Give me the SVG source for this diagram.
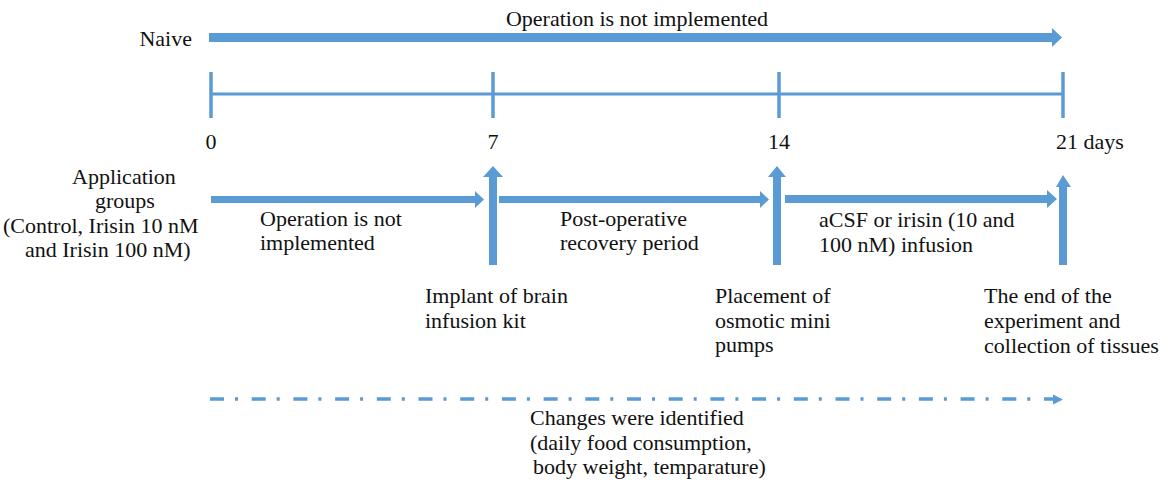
<svg xmlns="http://www.w3.org/2000/svg" width="1168" height="485" viewBox="0 0 1168 485">
<style>
text{font-family:'Liberation Serif','Times New Roman',Tinos,'DejaVu Serif',serif;font-size:22px;fill:#111}
.a{fill:#5b9bd5}
.t{stroke:#5b9bd5;fill:none}
</style>
<rect width="1168" height="485" fill="#fff"/>
<g id="connectors">
<polygon id="naive-arrow" class="a" points="209,33 1052,33 1052,28 1062,37.5 1052,47 1052,42 209,42"/>
<g id="timeline">
<line class="t" x1="211" y1="94" x2="1063" y2="94" stroke-width="3"/>
<line class="t" x1="211" y1="72" x2="211" y2="118" stroke-width="3.5"/>
<line class="t" x1="493" y1="72" x2="493" y2="118" stroke-width="3.5"/>
<line class="t" x1="779" y1="72" x2="779" y2="118" stroke-width="3.5"/>
<line class="t" x1="1063" y1="72" x2="1063" y2="118" stroke-width="3.5"/>
</g>
<polygon class="a" points="211,196 475,196 475,191 484,199.5 475,208 475,203 211,203"/>
<polygon class="a" points="499,196 760,196 760,191 769,199.5 760,208 760,203 499,203"/>
<polygon class="a" points="785,195 1047,195 1047,190 1057,199 1047,208 1047,203 785,203"/>
<polygon class="a" points="489,265 489,177 483,177 493,166 503,177 497,177 497,265"/>
<polygon class="a" points="773,265 773,177 768,177 777,166 786,177 781,177 781,265"/>
<polygon class="a" points="1059,265 1059,187 1056,187 1063,175 1071,187 1067,187 1067,265"/>
<line class="t" x1="210" y1="399" x2="1054" y2="399" stroke-width="3.5" stroke-dasharray="14 11 3 13.7"/>
<polygon class="a" points="1053,394.5 1063,399.5 1053,404.5"/>
</g>
<g id="naive"><text x="192" y="46" text-anchor="end">Naive</text></g>
<g id="naive-label"><text x="637" y="26" text-anchor="middle">Operation is not implemented</text></g>
<g id="day-labels">
<text x="211" y="149" text-anchor="middle">0</text>
<text x="493" y="149" text-anchor="middle">7</text>
<text x="779" y="149" text-anchor="middle">14</text>
<text x="1056" y="149">21 days</text>
</g>
<g id="application-groups">
<text x="72" y="184">Application</text>
<text x="95" y="208">groups</text>
<text x="3" y="233">(Control, Irisin 10 nM</text>
<text x="25" y="257">and Irisin 100 nM)</text>
</g>
<g id="phase1"><text x="260" y="226">Operation is not</text><text x="260" y="250">implemented</text></g>
<g id="phase2"><text x="560" y="226">Post-operative</text><text x="560" y="250">recovery period</text></g>
<g id="phase3"><text x="819" y="227">aCSF or irisin (10 and</text><text x="819" y="252">100 nM) infusion</text></g>
<g id="event7"><text x="425" y="303">Implant of brain</text><text x="425" y="328">infusion kit</text></g>
<g id="event14"><text x="715" y="303">Placement of</text><text x="715" y="328">osmotic mini</text><text x="715" y="352">pumps</text></g>
<g id="event21"><text x="984" y="303">The end of the</text><text x="984" y="328">experiment and</text><text x="984" y="353">collection of tissues</text></g>
<g id="changes">
<text x="530" y="425">Changes were identified</text>
<text x="530" y="450">(daily food consumption,</text>
<text x="533" y="474">body weight, temparature)</text>
</g>
</svg>
